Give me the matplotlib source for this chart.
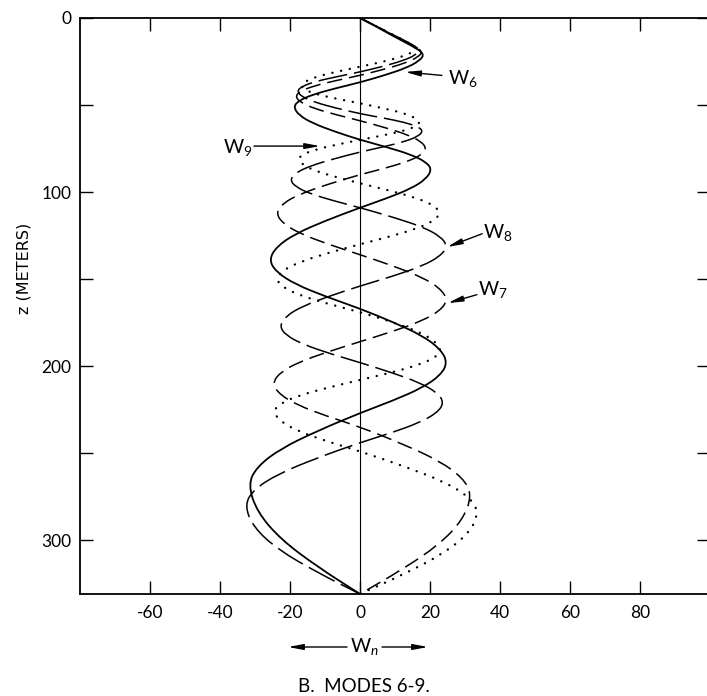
import matplotlib
matplotlib.use("Agg")
import matplotlib.pyplot as plt
from matplotlib.path import Path
from matplotlib.patches import PathPatch

plt.rcParams['font.family'] = ['Lato', 'DejaVu Sans']
plt.rcParams['mathtext.fontset'] = 'custom'
plt.rcParams['mathtext.rm'] = 'Lato'
plt.rcParams['mathtext.it'] = 'Lato:italic'
plt.rcParams['axes.unicode_minus'] = False
plt.rcParams['lines.scale_dashes'] = False

# vertical velocity modes W_n(z) (z in meters)
z_w6 = [0, 5.1, 10.3, 15.4, 20.5, 24.6, 28.8, 32.9, 37, 40.5, 44, 47.5, 51,
        55.8, 60.5, 65.3, 70, 74.3, 78.5, 82.8, 87, 92.5, 98, 103.5, 109,
        116.5, 124, 131.5, 139, 146, 153, 160, 167, 174.8, 182.5, 190.3, 198,
        205.3, 212.5, 219.8, 227, 237.3, 247.5, 257.8, 268, 283.8, 299.5, 315.3, 331]
w_w6 = [0, 4.8, 9.4, 14.3, 18.5, 17.0, 13.1, 7.0, 0, -7.2, -13.5, -17.5, -19,
        -17.5, -13.5, -7.2, 0, 7.8, 14.6, 18.9, 20.5, 18.9, 14.6, 7.8, 0,
        -9.9, -18.5, -23.9, -26, -23.9, -18.5, -9.9, 0, 9.5, 17.8, 23.0, 25,
        23.0, 17.8, 9.5, 0, -12.2, -22.7, -29.4, -32, -29.4, -22.7, -12.2, 0]

z_w7 = [0, 4.8, 9.5, 14.3, 19, 22.5, 26, 29.5, 33, 36, 39, 42, 45,
        48.5, 52, 55.5, 59, 63, 67, 71, 75, 78.8, 82.5, 86.3, 90,
        95.5, 101, 106.5, 112, 118, 124, 130, 136, 142.5, 149, 155.5, 162,
        168, 174, 180, 186, 192, 198, 204, 210, 216.3, 222.5, 228.8, 235,
        244.8, 254.5, 264.3, 274, 288.3, 302.5, 316.8, 331]
w_w7 = [0, 4.7, 9.2, 13.9, 18, 16.6, 12.8, 6.8, 0, -7.0, -13.1, -17.0, -18.5,
        -17.0, -13.1, -7.0, 0, 7.2, 13.5, 17.5, 19, 17.5, 13.5, 7.2, 0,
        -9.1, -17.0, -22.1, -24, -22.1, -17.0, -9.1, 0, 9.5, 17.8, 23.0, 25,
        23.0, 17.8, 9.5, 0, -9.5, -17.8, -23.0, -25, -23.0, -17.8, -9.5, 0,
        12.2, 22.7, 29.4, 32, 29.4, 22.7, 12.2, 0]

z_w8 = [0, 4.5, 9, 13.5, 18, 21.3, 24.5, 27.8, 31, 33.8, 36.5, 39.3, 42,
        45.3, 48.5, 51.8, 55, 57.5, 60, 62.5, 65, 68, 71, 74, 77,
        81, 85, 89, 93, 97, 101, 105, 109, 114.5, 120, 125.5, 131,
        136.8, 142.5, 148.3, 154, 159.8, 165.5, 171.3, 177, 182.3, 187.5, 192.8, 198,
        203.8, 209.5, 215.3, 221, 226.8, 232.5, 238.3, 244,
        253, 262, 271, 280, 292.8, 305.5, 318.3, 331]
w_w8 = [0, 4.5, 8.8, 13.3, 17.3, 15.9, 12.3, 6.6, 0, -6.8, -12.8, -16.6, -18,
        -16.6, -12.8, -6.8, 0, 6.8, 12.8, 16.6, 18, 16.6, 12.8, 6.8, 0,
        -7.6, -14.2, -18.4, -20, -18.4, -14.2, -7.6, 0, 9.5, 17.8, 23.0, 25,
        23.0, 17.8, 9.5, 0, -8.7, -16.3, -21.2, -23, -21.2, -16.3, -8.7, 0,
        9.1, 17.0, 22.1, 24, 22.1, 17.0, 9.1, 0,
        -12.5, -23.4, -30.4, -33, -30.4, -23.4, -12.5, 0]

z_w9 = [0, 4.3, 8.5, 12.8, 17, 19.8, 22.5, 25.3, 28, 30.8, 33.5, 36.3, 39,
        41.5, 44, 46.5, 49, 51.8, 54.5, 57.3, 60, 62.5, 65, 67.5, 70,
        72.8, 75.5, 78.3, 81, 84.5, 88, 91.5, 95, 99.3, 103.5, 107.8, 112,
        116.5, 121, 125.5, 130, 135, 140, 145, 150, 154.8, 159.5, 164.3, 169,
        174.5, 180, 185.5, 191, 195.3, 199.5, 203.8, 208, 212.5, 217, 221.5, 226,
        231.8, 237.5, 243.3, 249, 257.8, 266.5, 275.3, 284, 295.8, 307.5, 319.3, 331]
w_w9 = [0, 4.2, 8.3, 12.6, 16.3, 15.0, 11.6, 6.2, 0, -6.5, -12.1, -15.6, -17,
        -15.6, -12.1, -6.5, 0, 6.5, 12.2, 15.8, 17.2, 15.8, 12.2, 6.5, 0,
        -6.7, -12.6, -16.3, -17.7, -16.3, -12.6, -6.7, 0, 8.7, 16.3, 21.2, 23,
        21.2, 16.3, 8.7, 0, -9.1, -17.0, -22.1, -24, -22.1, -17.0, -9.1, 0,
        8.9, 16.5, 21.4, 23.3, 21.4, 16.5, 8.9, 0, -9.4, -17.6, -22.8, -24.8,
        -22.8, -17.6, -9.4, 0, 12.9, 24.1, 31.3, 34, 31.3, 24.1, 12.9, 0]

x_ticks = [-60, -40, -20, 0, 20, 40, 60, 80]
z_major = [0, 100, 200, 300]
z_minor = [50, 150, 250]


def smooth_curve(ax, x, y, **kw):
    # quadratic bezier through the read points so the bends are not angular
    verts = [(x[0], y[0]), ((x[0] + x[1]) / 2, (y[0] + y[1]) / 2)]
    codes = [Path.MOVETO, Path.LINETO]
    for i in range(1, len(x) - 1):
        verts += [(x[i], y[i]), ((x[i] + x[i + 1]) / 2, (y[i] + y[i + 1]) / 2)]
        codes += [Path.CURVE3, Path.CURVE3]
    verts.append((x[-1], y[-1]))
    codes.append(Path.LINETO)
    patch = PathPatch(Path(verts, codes), fill=False, edgecolor='black', **kw)
    ax.add_patch(patch)
    return patch


W, H = 707, 696
fig = plt.figure(figsize=(W / 100, H / 100), dpi=100)
ax = fig.add_axes([80 / W, 1 - 594 / H, (710 - 80) / W, (594 - 18) / H])

ax.axvline(0, color='black', lw=0.8)
smooth_curve(ax, w_w6, z_w6, lw=1.3)
smooth_curve(ax, w_w7, z_w7, lw=1.1, linestyle=(0, (11, 5)))
smooth_curve(ax, w_w8, z_w8, lw=1.1, linestyle=(0, (21, 5)))
p9 = smooth_curve(ax, w_w9, z_w9, lw=1.7, linestyle=(0, (0.1, 6.3)))
p9.set_capstyle('round')

ax.set_xlim(-80, 100)
ax.set_ylim(331, 0)
ax.set_xticks(x_ticks)
ax.set_yticks(z_major)
ax.set_yticks(z_minor, minor=True)
ax.tick_params(which='both', direction='in', length=9.5, width=1.0,
               top=True, right=True, labelsize=12.5, color='black')
ax.tick_params(axis='x', pad=8)
ax.tick_params(axis='y', pad=6)
for s in ax.spines.values():
    s.set_linewidth(1.3)

# labels with arrows
arrow = dict(arrowstyle='-|>,head_length=0.9,head_width=0.17', color='black',
             lw=1.0, shrinkA=0, shrinkB=0)
ax.annotate('', xy=(12.9, 31), xytext=(23.4, 33), arrowprops=arrow)
ax.text(25, 34.5, '$\\mathrm{W}_6$', fontsize=14, ha='left', va='center')
ax.annotate('', xy=(-11.4, 73.6), xytext=(-30.3, 73.6), arrowprops=arrow)
ax.text(-30.6, 74.5, '$\\mathrm{W}_9$', fontsize=14, ha='right', va='center')
ax.annotate('', xy=(24.9, 131.6), xytext=(34.9, 124), arrowprops=arrow)
ax.text(35.2, 123.5, '$\\mathrm{W}_8$', fontsize=14, ha='left', va='center')
ax.annotate('', xy=(25.1, 163.8), xytext=(33.4, 159), arrowprops=arrow)
ax.text(33.7, 156, '$\\mathrm{W}_7$', fontsize=14, ha='left', va='center')

fig.text(24 / W, 1 - 268 / H, 'z (METERS)', rotation=90, fontsize=11.5,
         family='DejaVu Sans', ha='center', va='center')

# W_n with arrows below the axis
ax.annotate('', xy=(288 / W, 1 - 647 / H), xytext=(347 / W, 1 - 647 / H),
            xycoords='figure fraction', arrowprops=arrow)
ax.annotate('', xy=(428 / W, 1 - 647 / H), xytext=(382 / W, 1 - 647 / H),
            xycoords='figure fraction', arrowprops=arrow)
fig.text(364 / W, 1 - 652 / H, '$\\mathrm{W}_n$', fontsize=14,
         ha='center', va='baseline')
fig.text(364 / W, 1 - 686 / H, 'B.  MODES 6-9.', fontsize=13.5,
         ha='center', va='center')

fig.savefig('out.png', dpi=100)
